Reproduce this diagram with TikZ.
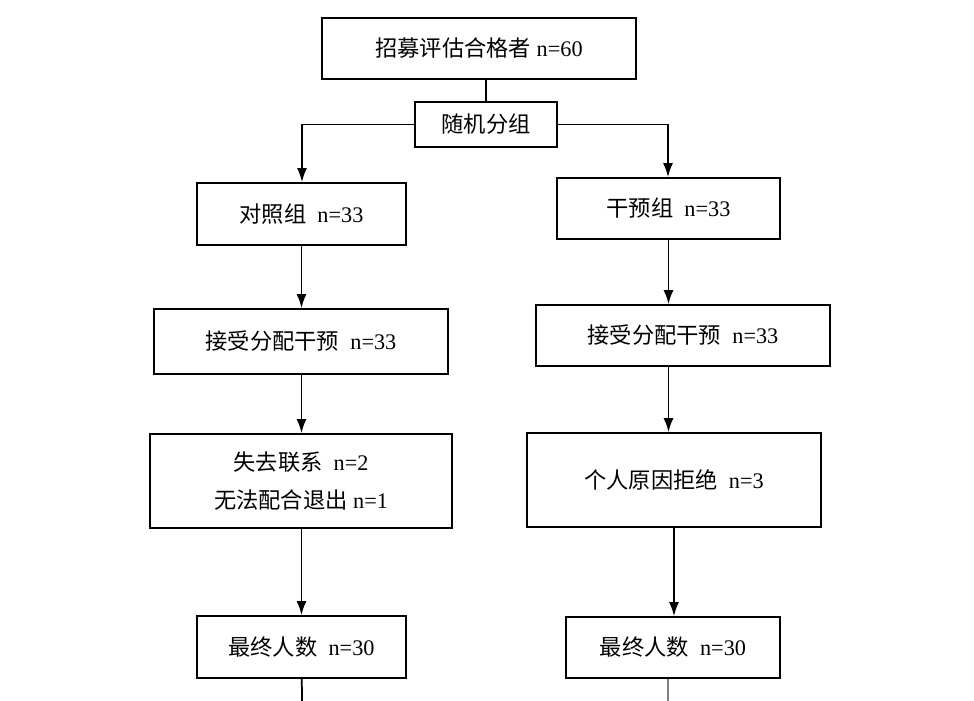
\documentclass[tikz,border=0pt]{standalone}
\usepackage{fontspec}
\setmainfont{Liberation Serif}
\newfontfamily\cjk{Noto Sans CJK SC}
\newcommand{\zh}[1]{{\cjk #1}}
\usetikzlibrary{positioning,arrows.meta}
\begin{document}
\begin{tikzpicture}[x=0.03cm,y=-0.03cm,-{Latex[length=0.42cm,width=0.3cm]},line width=1.5pt,
                    box/.style={draw,line width=1.5pt,inner sep=0pt,align=center,
                    font=\fontsize{19}{32}\selectfont}]
\useasboundingbox (0,0) rectangle (974,701);
\node[box,minimum width=314*0.03cm,minimum height=61*0.03cm] (recruit) at (479,48.5) {\zh{招募评估合格者} n=60};
\node[box,minimum width=142*0.03cm,minimum height=45*0.03cm] (random) at (486,124.5) {\zh{随机分组}};
\node[box,minimum width=209*0.03cm,minimum height=62*0.03cm] (ctrl) at (301.5,214) {\zh{对照组}\ \ n=33};
\node[box,minimum width=223*0.03cm,minimum height=61*0.03cm] (intv) at (668.5,208.5) {\zh{干预组}\ \ n=33};
\node[box,minimum width=294*0.03cm,minimum height=65*0.03cm] (ctrlrecv) at (301,341.5) {\zh{接受分配干预}\ \ n=33};
\node[box,minimum width=294*0.03cm,minimum height=61*0.03cm] (intvrecv) at (683,335.5) {\zh{接受分配干预}\ \ n=33};
\node[box,minimum width=302*0.03cm,minimum height=94*0.03cm] (ctrllost) at (301,481) {\zh{失去联系}\ \ n=2\\\zh{无法配合退出} n=1};
\node[box,minimum width=294*0.03cm,minimum height=94*0.03cm] (intvlost) at (674,480) {\zh{个人原因拒绝}\ \ n=3};
\node[box,minimum width=209*0.03cm,minimum height=62*0.03cm] (ctrlfinal) at (301.5,647) {\zh{最终人数}\ \ n=30};
\node[box,minimum width=214*0.03cm,minimum height=61*0.03cm] (intvfinal) at (673,647.5) {\zh{最终人数}\ \ n=30};
\coordinate (ctrlend) at (302,701);
\coordinate (intvend) at (668,701);
% connectors
\draw[-] (random.north) -- (random.north |- recruit.south);
\draw (random.west) -| (ctrl.north -| 302,0);
\draw (random.east) -| (intv.north -| 668,0);
\draw (ctrl) -- (ctrlrecv.north -| ctrl);
\draw (intv) -- (intv.south |- intvrecv.north);
\draw (ctrlrecv.south -| ctrl) -- (ctrllost.north -| ctrl);
\draw (intv.south |- intvrecv.south) -- (intv.south |- intvlost.north);
\draw (ctrllost.south -| ctrl) -- (ctrlfinal);
\draw (intvlost.south -| 674,0) -- (intvfinal.north -| 674,0);
\draw[-] (ctrlfinal) -- (ctrlend);
\draw[-,gray] (intvfinal.south -| intvend) -- (intvend);
\end{tikzpicture}
\end{document}
